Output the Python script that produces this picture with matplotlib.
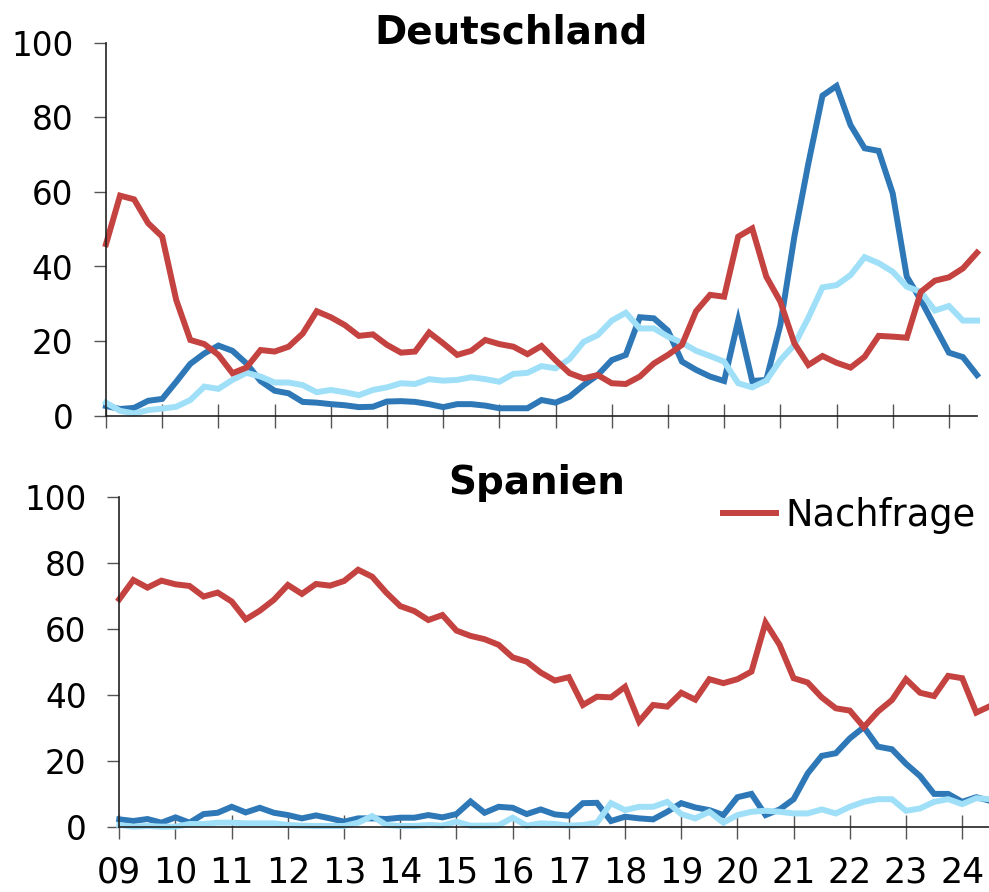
import numpy as np
import matplotlib.pyplot as plt

# quarters 2009Q1 .. 2024Q3
years = [y for y in range(2009, 2025) for q in range(4)][:63]
qtrs = [q for y in range(2009, 2025) for q in range(1, 5)][:63]
year_labels = ['09', '10', '11', '12', '13', '14', '15', '16',
               '17', '18', '19', '20', '21', '22', '23', '24']

# Deutschland
de_nachfrage = [46, 59, 58, 51.6, 48, 31, 20.3, 19.2, 16.3, 11.4, 12.9, 17.6, 17.2, 18.5, 22, 28,
                26.4, 24.3, 21.4, 21.8, 19, 16.9, 17.2, 22.3, 19.4, 16.3, 17.4, 20.3, 19.2, 18.5, 16.5, 18.7,
                14.9, 11.4, 10, 10.9, 8.7, 8.5, 10.5, 14, 16.3, 19, 28, 32.4, 31.9, 48, 50.2, 37.3,
                30.6, 19.4, 13.6, 16, 14.2, 12.9, 15.8, 21.4, 21.2, 20.9, 33.2, 36.2, 37.1, 39.5, 43.7]
de_dark = [2.6, 1.8, 2.1, 4, 4.5, 9.1, 13.9, 16.7, 18.8, 17.4, 14, 9.3, 6.7, 6, 3.7, 3.5,
           3.1, 2.8, 2.3, 2.4, 3.8, 3.9, 3.7, 3.1, 2.3, 3.1, 3.1, 2.7, 2, 2, 2, 4.2,
           3.5, 5.1, 8.2, 10.9, 14.9, 16.3, 26.4, 26.1, 22.8, 14.5, 12.3, 10.5, 9.3, 25.5, 9.3, 9.6,
           24.3, 48, 67.7, 85.8, 88.4, 77.9, 71.7, 71, 59.6, 37.3, 31, 23.9, 16.9, 15.7, 10.9]
de_light = [3.5, 1.3, 0.6, 1.5, 1.9, 2.4, 4.2, 7.8, 7.2, 9.6, 11.5, 10.5, 8.9, 8.9, 8.2, 6.3,
            6.9, 6.3, 5.5, 6.9, 7.6, 8.7, 8.5, 9.8, 9.4, 9.6, 10.3, 9.8, 9.1, 11.2, 11.5, 13.3,
            12.7, 15.2, 19.8, 21.6, 25.5, 27.6, 23.4, 23.4, 21.2, 19.6, 17.4, 16, 14.5, 8.7, 7.6, 9.4,
            14.9, 19, 26.3, 34.4, 35, 37.7, 42.5, 40.9, 38.6, 34.6, 33.2, 28.2, 29.4, 25.5, 25.5]

# Spanien
es_nachfrage = [69, 74.8, 72.5, 74.6, 73.5, 73, 69.8, 71, 68.3, 62.9, 65.5, 68.8, 73.3, 70.6, 73.6, 73.1,
                74.5, 77.9, 75.8, 71, 66.9, 65.4, 62.7, 64.2, 59.5, 57.9, 56.9, 55.2, 51.4, 50.1, 46.8, 44.4,
                45.4, 37, 39.5, 39.3, 42.5, 32, 37, 36.5, 40.7, 38.6, 44.8, 43.6, 44.8, 47.1, 61.9, 55.2,
                45.1, 43.8, 39.3, 36, 35.3, 30.3, 35, 38.5, 44.8, 40.7, 39.7, 45.8, 45.1, 34.7, 36.7]
es_dark = [2.4, 1.9, 2.5, 1.4, 3, 1.4, 4, 4.4, 6.2, 4.5, 5.9, 4.4, 3.7, 2.7, 3.6, 2.7,
           1.7, 2.7, 2.7, 2.5, 2.9, 2.9, 3.7, 3, 4, 7.8, 4.4, 6.2, 5.9, 4, 5.4, 3.9,
           3.5, 7.3, 7.4, 1.9, 3.2, 2.7, 2.4, 4.7, 7.3, 6, 5.2, 3.7, 9.1, 10.1, 3.7, 5.4,
           8.5, 16.3, 21.6, 22.4, 26.9, 30.3, 24.4, 23.6, 19.2, 15.5, 10.1, 10.1, 7.7, 9.1, 8]
es_light = [0.7, 0.2, 0.4, 0.2, 0.2, 1, 1, 1.4, 1.4, 1.2, 1.2, 1.2, 0.7, 0.5, 0.4, 0.4,
            0.4, 1.4, 3.4, 0.7, 0.4, 0.4, 0.7, 0.5, 1.7, 0.5, 0.5, 0.6, 2.9, 0.5, 1.2, 1,
            0.5, 0.7, 1.4, 7.3, 5.2, 6.2, 6.2, 7.7, 4, 2.7, 4.7, 1.4, 3.7, 4.7, 5, 4.7,
            4.2, 4.2, 5.4, 4.2, 6.2, 7.7, 8.5, 8.5, 5, 5.7, 7.7, 8.5, 7, 8.8, 8.5]

RED = '#C4423F'
DARK = '#2E78B7'
LIGHT = '#9FE0F8'
LW = 4.3

x = np.array(years) + (np.array(qtrs) - 1) / 4.0

fig = plt.figure(figsize=(9.89, 8.92), dpi=100)
ax1 = fig.add_axes([106 / 989, (892 - 415.7) / 892, 871 / 989, 373 / 892])
ax2 = fig.add_axes([119.3 / 989, (892 - 827.3) / 892, 871 / 989, 330.6 / 892])


def style_axis(ax, show_xlabels):
    ax.set_xlim(2009, 2024.5)
    ax.set_ylim(0, 100)
    ax.set_yticks(range(0, 101, 20))
    ax.set_xticks(range(2009, 2025))
    for s in ['top', 'right']:
        ax.spines[s].set_visible(False)
    for s in ['left', 'bottom']:
        ax.spines[s].set_linewidth(1.2)
        ax.spines[s].set_color('#222222')
    ax.tick_params(axis='y', direction='out', length=8.6, width=1.0, color='#555555',
                   labelsize=23.5, pad=15)
    ax.tick_params(axis='x', direction='inout', length=17, width=1.0, color='#555555',
                   labelsize=25, pad=12)
    if show_xlabels:
        ax.set_xticklabels(year_labels)
    else:
        ax.set_xticklabels([])


for ax, red, dark, light in [(ax1, de_nachfrage, de_dark, de_light),
                             (ax2, es_nachfrage, es_dark, es_light)]:
    ax.plot(x, dark, color=DARK, lw=LW, solid_joinstyle='miter', label='_nolegend_', clip_on=False)
    ax.plot(x, light, color=LIGHT, lw=LW, solid_joinstyle='miter', label='_nolegend_', clip_on=False)
    ax.plot(x, red, color=RED, lw=LW, solid_joinstyle='miter', label='Nachfrage', clip_on=False)

style_axis(ax1, False)
style_axis(ax2, True)

fig.text(511 / 989, (892 - 44) / 892, 'Deutschland', ha='center', va='baseline',
         fontsize=28, fontweight='bold')
fig.text(537 / 989, (892 - 494) / 892, 'Spanien', ha='center', va='baseline',
         fontsize=28, fontweight='bold')

ax2.legend(loc='upper right', bbox_to_anchor=(1.0, 1.045), frameon=False, fontsize=26.5,
           handlelength=1.45, handletextpad=0.25, borderaxespad=0.0)

fig.savefig('out.png', dpi=100)
